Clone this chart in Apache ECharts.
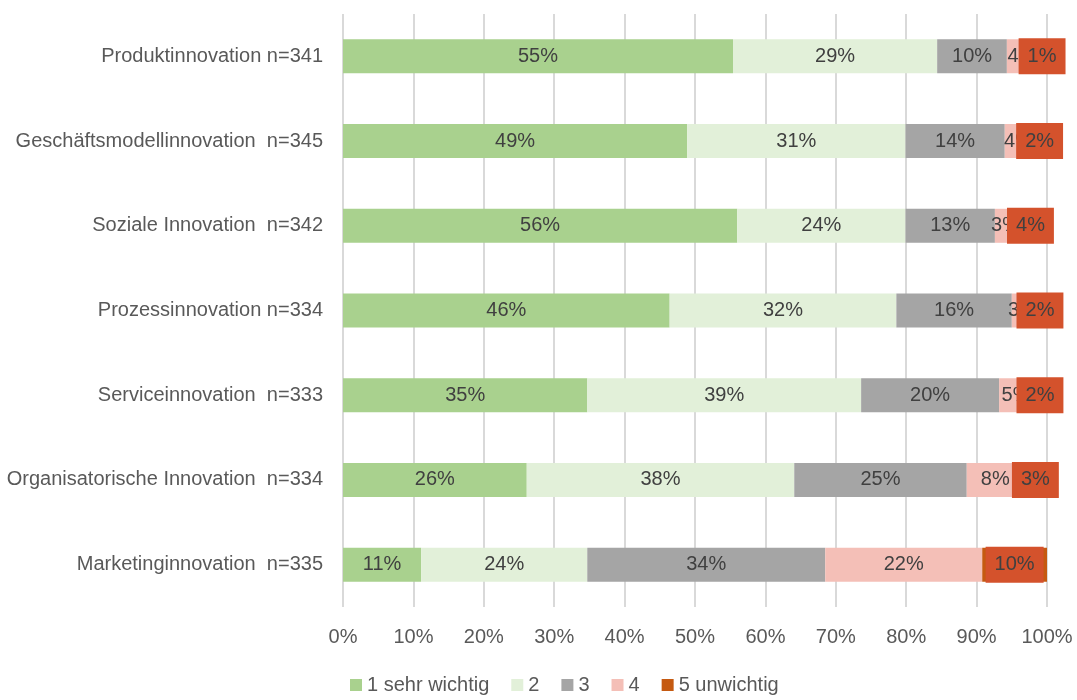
<!DOCTYPE html>
<html>
<head>
<meta charset="utf-8">
<script src="https://cdn.jsdelivr.net/npm/echarts@6/dist/echarts.min.js"></script>
<style>
  html, body { margin: 0; padding: 0; background: #fff; }
  #chart { width: 1077px; height: 700px; }
</style>
</head>
<body>
<div id="chart"></div>
<script>
var categories = [
  'Produktinnovation n=341',
  'Geschäftsmodellinnovation  n=345',
  'Soziale Innovation  n=342',
  'Prozessinnovation n=334',
  'Serviceinnovation  n=333',
  'Organisatorische Innovation  n=334',
  'Marketinginnovation  n=335'
];
var seriesNames = ['1 sehr wichtig', '2', '3', '4', '5 unwichtig'];
var s1 = [55.4, 48.9, 56.0, 46.4, 34.7, 26.1, 11.1];
var s2 = [29.0, 31.0, 23.9, 32.2, 38.9, 38.0, 23.6];
var s3 = [9.9, 14.1, 12.7, 16.4, 19.6, 24.5, 33.8];
var s4 = [4.3, 3.9, 3.0, 3.0, 4.8, 8.1, 22.3];
var s5 = [1.4, 2.1, 4.1, 2.0, 2.0, 3.3, 9.5];
var xTicks = [0, 10, 20, 30, 40, 50, 60, 70, 80, 90, 100];

var colors = ['#A9D18E', '#E2F0D9', '#A5A5A5', '#F4BFB7', '#C55A11'];
var font = '"Liberation Sans Narrow", "Arial Narrow", "Liberation Sans", sans-serif';

var chart = echarts.init(document.getElementById('chart'));

function pct(p) { return Math.round(p.value) + '%'; }

var allData = [s1, s2, s3, s4, s5];
var series = allData.map(function (d, i) {
  var s = {
    name: seriesNames[i],
    type: 'bar',
    stack: 'total',
    barWidth: 34,
    data: d,
    itemStyle: { color: colors[i] },
    label: {
      show: true,
      position: 'inside',
      formatter: pct,
      color: '#404040',
      fontFamily: font,
      fontSize: 20
    }
  };
  if (i === 4) {
    s.label.backgroundColor = '#D4522C';
    s.label.padding = [8, 9, 8, 9];
  }
  return s;
});

var option = {
  animation: false,
  color: colors,
  grid: { left: 343, right: 30, top: 14, bottom: 93 },
  legend: {
    bottom: 0,
    left: 345,
    itemWidth: 12,
    itemHeight: 12,
    itemGap: 22,
    icon: 'rect',
    textStyle: { color: '#595959', fontFamily: font, fontSize: 20 },
    data: seriesNames
  },
  xAxis: {
    type: 'value',
    min: 0,
    max: 100,
    interval: 10,
    axisLine: { show: false },
    axisTick: { show: false },
    splitLine: { lineStyle: { color: '#D9D9D9', width: 2 } },
    axisLabel: {
      color: '#595959',
      fontFamily: font,
      fontSize: 20,
      margin: 20,
      formatter: function (v) { return xTicks.indexOf(v) >= 0 ? v + '%' : ''; }
    }
  },
  yAxis: {
    type: 'category',
    inverse: true,
    data: categories,
    axisLine: { show: false },
    axisTick: { show: false },
    axisLabel: {
      color: '#595959',
      fontFamily: font,
      fontSize: 20,
      margin: 20
    }
  },
  series: series
};
chart.setOption(option);
</script>
</body>
</html>
